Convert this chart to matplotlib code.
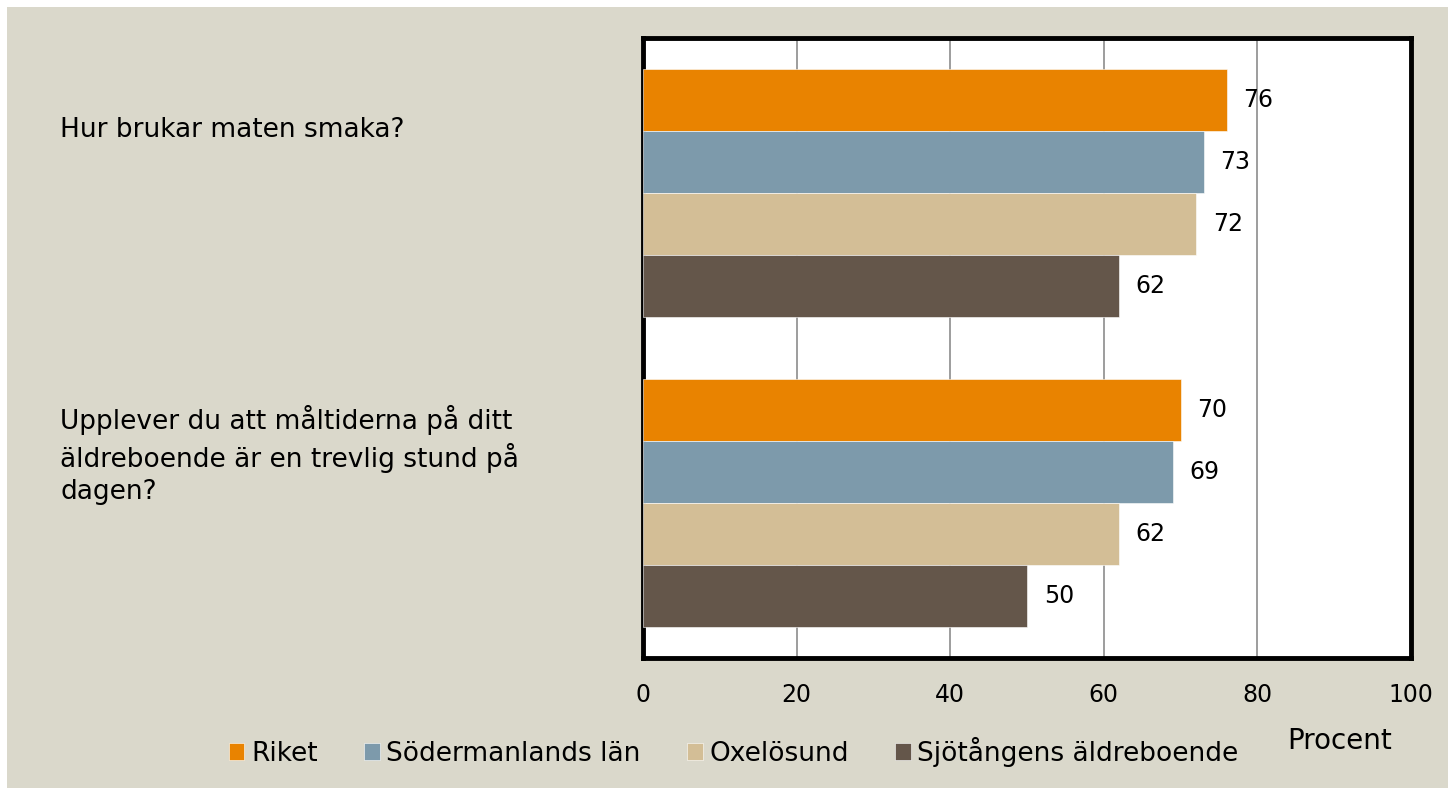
import numpy as np
import matplotlib.pyplot as plt
from matplotlib.patches import Rectangle

# data
questions = ["Hur brukar maten smaka?",
             "Upplever du att måltiderna på ditt\näldreboende är en trevlig stund på\ndagen?"]
series = ["Riket", "Södermanlands län", "Oxelösund", "Sjötångens äldreboende"]
values = {
    "Riket": [76, 70],
    "Södermanlands län": [73, 69],
    "Oxelösund": [72, 62],
    "Sjötångens äldreboende": [62, 50],
}
colors = ["#E98300", "#7D9AAB", "#D3BE96", "#64564A"]
xticks = [0, 20, 40, 60, 80, 100]

plt.rcParams['font.family'] = ['DejaVu Sans']

W, H = 1448, 788
fig = plt.figure(figsize=(W / 100, H / 100), dpi=100)
fig.patch.set_facecolor("white")
fig.patches.append(Rectangle((7 / W, 0), 1, 1 - 7 / H, transform=fig.transFigure,
                             facecolor="#DAD8CB", edgecolor="none", zorder=-10))

ax = fig.add_axes([643 / W, 1 - 658 / H, 768 / W, 620 / H])
ax.set_facecolor("white")

bar_h = 0.2
y = np.arange(len(questions))
for i, (name, col) in enumerate(zip(series, colors)):
    pos = y - 0.3 + i * bar_h
    bars = ax.barh(pos, values[name], height=bar_h, color=col, label=name,
                   edgecolor="white", linewidth=0.4, zorder=3)
    for b, v in zip(bars, values[name]):
        ax.annotate(str(v), (v, b.get_y() + b.get_height() / 2),
                    xytext=(12, 0), textcoords="offset points",
                    va="center", ha="left", fontsize=17, color="black", zorder=4)

ax.set_xlim(0, 100)
ax.set_ylim(1.5, -0.5)
ax.set_xticks(xticks)
ax.set_xticklabels([str(t) for t in xticks], fontsize=17)
ax.tick_params(axis="x", length=0, pad=18)
ax.set_yticks([])
ax.grid(axis="x", color="#8C8C8C", linewidth=1.2, zorder=1)
for s in ax.spines.values():
    s.set_linewidth(3.5)
    s.set_color("black")

# category labels on the left
fig.text(60 / W, 1 - 130 / H, questions[0], ha="left", va="center", fontsize=19)
fig.text(60 / W, 1 - 455 / H, questions[1], ha="left", va="center", fontsize=19,
         linespacing=1.3)

fig.text(1340 / W, 1 - 741 / H, "Procent", ha="center", va="center", fontsize=20)

fig.legend(loc="center left", bbox_to_anchor=(218 / W, 1 - 752 / H), ncol=4,
           frameon=False, fontsize=19, handlelength=0.6, handleheight=0.6,
           handletextpad=0.25, columnspacing=1.75, borderaxespad=0)

fig.savefig("out.png", dpi=100, facecolor=fig.get_facecolor())
